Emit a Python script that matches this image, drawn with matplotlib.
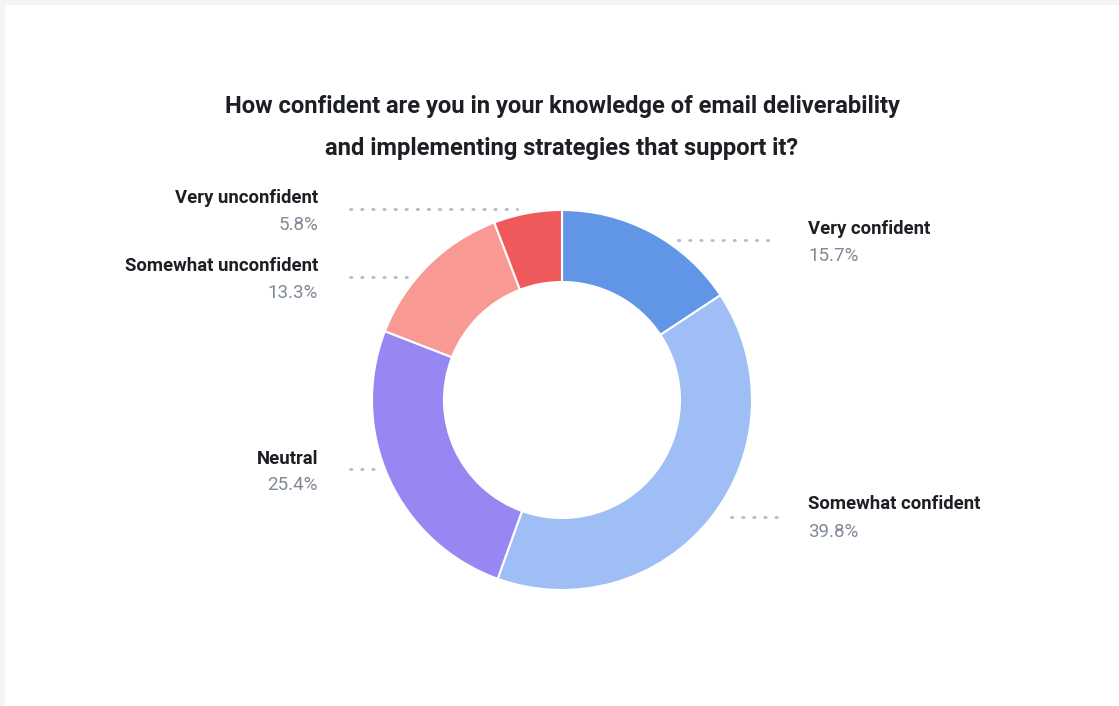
import matplotlib
matplotlib.use("Agg")
import matplotlib.pyplot as plt
from matplotlib.patches import Rectangle

categories = ["Very confident", "Somewhat confident", "Neutral",
              "Somewhat unconfident", "Very unconfident"]
shares = [15.7, 39.8, 25.4, 13.3, 5.8]
colors = ["#6196e6", "#9ebef5", "#9687f2", "#f89a93", "#ef595b"]
title_lines = ["How confident are you in your knowledge of email deliverability",
               "and implementing strategies that support it?"]

W, H = 1119, 706
fig = plt.figure(figsize=(W / 100, H / 100), dpi=100)
fig.patch.set_facecolor("#f3f4f8")
ax = fig.add_axes([0, 0, 1, 1])

def Y(py):
    return H - py

# white card
ax.add_patch(Rectangle((5, 0), W - 5, H - 5, facecolor="white", edgecolor="none", zorder=0))

cx, cy, r_out, r_in = 562, 400, 190, 118
ax.pie(shares, colors=colors, startangle=90, counterclock=False,
       radius=r_out, center=(cx, Y(cy)), frame=True,
       wedgeprops=dict(width=r_out - r_in, edgecolor="white", linewidth=1.5))
ax.set_xlim(0, W)
ax.set_ylim(0, H)
ax.set_aspect("auto")
ax.axis("off")

for i, line in enumerate(title_lines):
    ax.text(cx, Y(106 + 42 * i), line, ha="center", va="center",
            fontsize=17.1, fontweight="bold", family="Roboto", color="#1c1f24")

# label placement: (text x, name y, pct y, line x0, line x1, line y, alignment)
layout = {
    "Very confident": (808, 229, 256, 678, 777, 240, "left"),
    "Somewhat confident": (808, 504, 532, 731, 777, 517, "left"),
    "Neutral": (318, 459, 485, 350, 375, 469, "right"),
    "Somewhat unconfident": (318, 266, 293, 350, 408, 277, "right"),
    "Very unconfident": (318, 198, 225, 350, 517, 209, "right"),
}
for name, val in zip(categories, shares):
    tx, ny, py, x0, x1, ly, ha = layout[name]
    ax.plot([x0, x1], [Y(ly), Y(ly)], color="#b3bbc6", linewidth=2,
            linestyle=(0, (0.5, 3.5)), dash_capstyle="round", solid_capstyle="round")
    ax.text(tx, Y(ny), name, ha=ha, va="center", fontsize=13.3,
            fontweight="bold", family="Roboto", color="#1c1f24")
    ax.text(tx, Y(py), f"{val}%", ha=ha, va="center", fontsize=13.5,
            family="Roboto", fontweight="normal", color="#7f8997")

fig.savefig("out.png", dpi=100, facecolor=fig.get_facecolor())
